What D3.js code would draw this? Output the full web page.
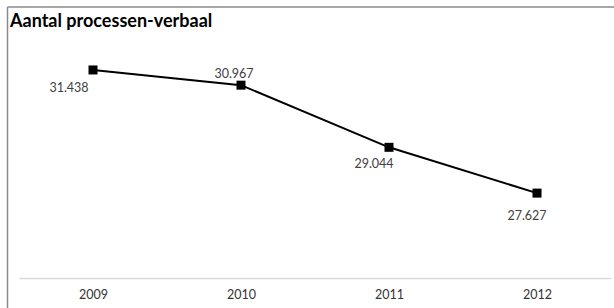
<!DOCTYPE html>
<html><head><meta charset="utf-8">
<script src="https://cdn.jsdelivr.net/npm/d3@7"></script>
<style>html,body{margin:0;padding:0;background:#fff;}svg{display:block;}</style>
</head><body>
<script>
const title = "Aantal processen-verbaal";
const years = ["2009", "2010", "2011", "2012"];
const values = [31438, 30967, 29044, 27627];
const valueLabels = ["31.438", "30.967", "29.044", "27.627"];

const W = 614, H = 308;
const svg = d3.select("body").append("svg").attr("width", W).attr("height", H);
const font = "Lato, 'Open Sans', sans-serif";

// frame
svg.append("line").attr("x1", 7.5).attr("x2", W).attr("y1", 7).attr("y2", 7).attr("stroke", "#8a8a8a").attr("stroke-width", 1.5);
svg.append("line").attr("x1", 7.5).attr("x2", 7.5).attr("y1", 7).attr("y2", H).attr("stroke", "#8a8a8a").attr("stroke-width", 1.5);

svg.append("text").attr("x", 10).attr("y", 27).text(title)
  .attr("font-family", font).attr("font-weight", "bold").attr("font-size", 18).attr("fill", "#000");

const x = d3.scalePoint().domain(years).range([19, 611]).padding(0.5);
const y = d3.scaleLinear().domain([25000, 32000]).range([278, 51.8]);

const axis = svg.append("g").attr("transform", "translate(0,278)")
  .call(d3.axisBottom(x).tickSize(0).tickPadding(12));
axis.select(".domain").attr("stroke", "#d9d9d9").attr("stroke-width", 1.5);
axis.selectAll("text").attr("font-family", font).attr("font-size", 12.5).attr("fill", "#333");

const line = d3.line().x((d, i) => x(years[i])).y(d => y(d));
svg.append("path").datum(values).attr("d", line).attr("fill", "none").attr("stroke", "#000").attr("stroke-width", 2);

svg.selectAll("rect.m").data(values).enter().append("rect")
  .attr("x", (d, i) => x(years[i]) - 4.5).attr("y", d => y(d) - 4.5)
  .attr("width", 9).attr("height", 9).attr("fill", "#000");

// label placement relative to marker
const place = [[-24, 22], [-7, -7], [-15, 21], [-10, 27]];
svg.selectAll("text.v").data(values).enter().append("text")
  .attr("x", (d, i) => x(years[i]) + place[i][0])
  .attr("y", (d, i) => y(d) + place[i][1])
  .attr("text-anchor", "middle")
  .attr("font-family", font).attr("font-size", 12.5).attr("fill", "#404040")
  .text((d, i) => valueLabels[i]);
</script>
</body></html>
